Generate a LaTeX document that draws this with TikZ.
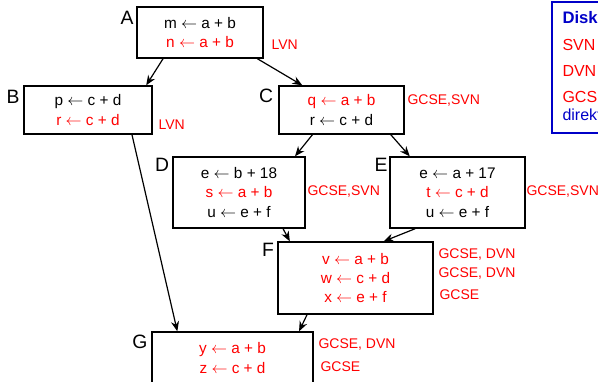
\documentclass[tikz,border=0pt]{standalone}
\usepackage{fontspec}
\setmainfont{Liberation Sans}
\usetikzlibrary{arrows.meta,calc}

\definecolor{redop}{RGB}{255,0,0}
\definecolor{blueleg}{RGB}{0,0,200}
\newcommand{\asg}{\ensuremath{\leftarrow}}

\tikzset{every picture/.style={line width=0.75pt}}
\tikzset{
	blk/.style={draw, line width=1pt, rectangle, inner sep=0pt, align=center, font=\fontsize{11.5}{14.5}\selectfont},
	blkname/.style={inner sep=0pt, font=\fontsize{14.5}{17}\selectfont},
	opt/.style={anchor=west, inner sep=0pt, text=redop, font=\fontsize{10.5}{12}\selectfont},
	flow/.style={-{Stealth[length=7.5pt,width=6pt]}, line width=0.9pt},
	leg/.style={anchor=west, inner sep=0pt, font=\fontsize{12}{14}\selectfont}
}

\begin{document}
\begin{tikzpicture}[x=0.75pt,y=0.75pt,yscale=-1,xscale=1]
	\useasboundingbox (0,0) rectangle (598,381);
	\clip (0,0) rectangle (598,381);

	%Shape: Rectangle (blocks)
	\node (A) at (200,32.5) [blk, minimum width=94.5pt, minimum height=38.25pt] {m \asg{} a + b\\ \textcolor{redop}{n \asg{} a + b}};
	\node (B) at (88,110) [blk, minimum width=96pt, minimum height=36pt] {p \asg{} c + d\\ \textcolor{redop}{r \asg{} c + d}};
	\node (C) at (341.5,110) [blk, minimum width=93.75pt, minimum height=36pt] {\textcolor{redop}{q \asg{} a + b}\\ r \asg{} c + d};
	\node (D) at (239,192.5) [blk, minimum width=99pt, minimum height=53.25pt] {e \asg{} b + 18\\ \textcolor{redop}{s \asg{} a + b}\\ u \asg{} e + f};
	\node (E) at (457.5,192.5) [blk, minimum width=101.25pt, minimum height=53.25pt] {e \asg{} a + 17\\ \textcolor{redop}{t \asg{} c + d}\\ u \asg{} e + f};
	\node (F) at (355.5,278) [blk, minimum width=116.25pt, minimum height=54pt, text=redop] {v \asg{} a + b\\ w \asg{} c + d\\ x \asg{} e + f};
	\node (G) at (232.5,358) [blk, minimum width=120.75pt, minimum height=39pt, text=redop] {y \asg{} a + b\\ z \asg{} c + d};

	% Text Node (block names)
	\node (nA) at (127,18) [blkname] {A};
	\node (nB) at (13,97) [blkname] {B};
	\node (nC) at (266,96) [blkname] {C};
	\node (nD) at (162,165) [blkname] {D};
	\node (nE) at (381,165) [blkname] {E};
	\node (nF) at (268,250) [blkname] {F};
	\node (nG) at (140,342) [blkname] {G};

	% Text Node (optimisations)
	\node (oA) at (271,45) [opt] {LVN};
	\node (oB) at (158,125) [opt] {LVN};
	\node (oC) at (407,101) [opt] {GCSE,SVN};
	\node (oD) at (307,192) [opt] {GCSE,SVN};
	\node (oE) at (526,192) [opt] {GCSE,SVN};
	\node (oF1) at (438,255) [opt] {GCSE, DVN};
	\node (oF2) at (438,274) [opt] {GCSE, DVN};
	\node (oF3) at (439,295) [opt] {GCSE};
	\node (oG1) at (318,345) [opt] {GCSE, DVN};
	\node (oG2) at (320,367) [opt] {GCSE};

	%Straight Lines (control flow)
	\draw [flow] ($(A.south west)!0.21!(A.south east)$) -- ($(B.north west)!0.95!(B.north east)$);
	\draw [flow] ($(A.south west)!0.95!(A.south east)$) -- ($(C.north west)!0.19!(C.north east)$);
	\draw [flow] ($(B.south west)!0.84!(B.south east)$) -- ($(G.north west)!0.16!(G.north east)$);
	\draw [flow] ($(C.south west)!0.27!(C.south east)$) -- ($(D.north west)!0.92!(D.north east)$);
	\draw [flow] ($(C.south west)!0.89!(C.south east)$) -- ($(E.north west)!0.15!(E.north east)$);
	\draw [flow] ($(D.south west)!0.83!(D.south east)$) -- ($(F.north west)!0.08!(F.north east)$);
	\draw [flow] ($(E.south west)!0.19!(E.south east)$) -- ($(F.north west)!0.68!(F.north east)$);
	\draw [flow] ($(F.south west)!0.19!(F.south east)$) -- ($(G.north west)!0.91!(G.north east)$);

	%Shape: Rectangle (legend)
	\draw [blueleg, line width=1.2pt] (552,2) rectangle (680,133);
	\node (lg0) at (562,18) [leg, text=blueleg, font=\fontsize{12.5}{14}\bfseries] {Diskussion};
	\node (lg1) at (562,45) [leg, text=redop] {SVN};
	\node (lg2) at (562,71) [leg, text=redop] {DVN};
	\node (lg3) at (562,97) [leg, text=redop] {GCSE};
	\node (lg4) at (562,115) [leg, text=blueleg] {direkt};

\end{tikzpicture}
\end{document}
